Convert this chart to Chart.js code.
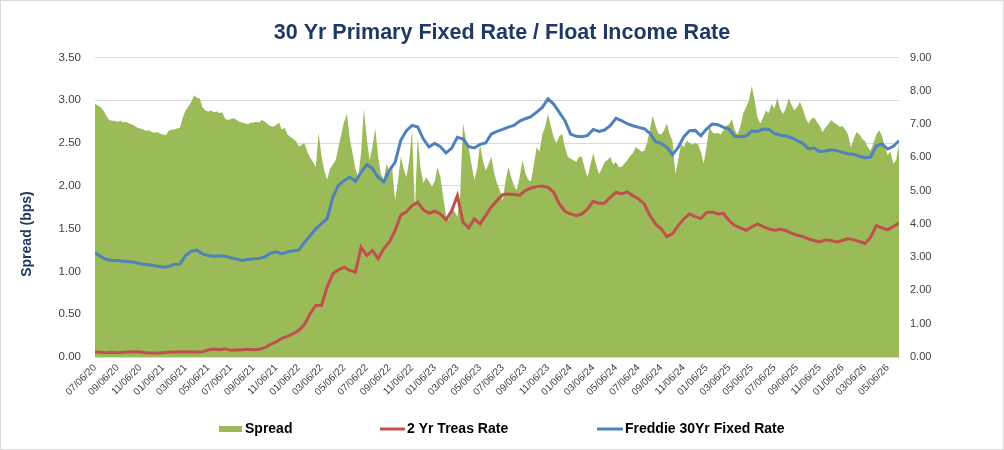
<!DOCTYPE html>
<html><head><meta charset="utf-8">
<script src="https://cdn.jsdelivr.net/npm/chart.js@4/dist/chart.umd.min.js"></script>
<style>html,body{margin:0;padding:0;background:#fff}#wrap{width:1004px;height:450px;position:relative}</style>
</head><body><div id="wrap"><canvas id="c" width="1004" height="450"></canvas></div>
<script>
// X tick labels (every two months, month offsets 0,2,4,...,70)
const tickLabels = ["07/06/20","09/06/20","11/06/20","01/06/21","03/06/21","05/06/21","07/06/21","09/06/21","11/06/21",
"01/06/22","03/06/22","05/06/22","07/06/22","09/06/22","11/06/22","01/06/23","03/06/23","05/06/23","07/06/23","09/06/23","11/06/23",
"01/06/24","03/06/24","05/06/24","07/06/24","09/06/24","11/06/24","01/06/25","03/06/25","05/06/25","07/06/25","09/06/25","11/06/25",
"01/06/26","03/06/26","05/06/26"];
// Spread: one value per week (quarter month), starting 07/06/20
const spreadStep = 0.25;
const spread = [
2.96,2.94,2.92,2.88,2.82,2.77,2.76,2.76,2.75,2.76,2.74,2.75,2.73,2.72,2.70,2.68,2.67,2.66,2.64,2.65,
2.63,2.62,2.63,2.61,2.60,2.59,2.64,2.66,2.66,2.67,2.68,2.80,2.88,2.93,2.98,3.06,3.03,3.02,2.92,2.88,
2.87,2.88,2.86,2.87,2.85,2.86,2.78,2.77,2.78,2.79,2.77,2.75,2.74,2.73,2.72,2.74,2.74,2.75,2.74,2.77,
2.75,2.72,2.70,2.69,2.71,2.74,2.66,2.68,2.60,2.57,2.55,2.52,2.46,2.48,2.50,2.40,2.33,2.28,2.22,2.62,
2.35,2.18,2.07,2.20,2.25,2.30,2.45,2.60,2.75,2.84,2.55,2.38,2.20,2.10,2.40,2.90,2.55,2.30,2.45,2.67,
2.35,2.14,2.07,2.26,2.14,2.20,1.83,2.05,2.34,2.20,2.10,2.30,2.65,1.72,2.57,2.20,2.03,2.10,2.05,1.99,
2.05,2.22,2.10,1.87,1.65,1.60,1.76,1.70,1.64,1.90,2.73,2.55,2.45,2.25,2.07,2.20,2.49,2.30,2.18,2.25,
2.34,2.15,2.03,1.95,1.83,2.05,2.22,2.10,2.00,1.95,2.10,2.30,2.15,2.07,2.05,2.25,2.45,2.40,2.60,2.69,
2.84,2.70,2.57,2.50,2.58,2.61,2.45,2.34,2.32,2.30,2.28,2.34,2.34,2.20,2.10,2.25,2.38,2.25,2.14,2.20,
2.28,2.30,2.34,2.25,2.28,2.22,2.22,2.26,2.30,2.35,2.38,2.45,2.43,2.40,2.41,2.50,2.65,2.82,2.70,2.61,
2.60,2.65,2.73,2.60,2.53,2.14,2.30,2.49,2.45,2.53,2.50,2.48,2.50,2.49,2.40,2.26,2.45,2.69,2.63,2.61,
2.62,2.60,2.65,2.70,2.72,2.78,2.65,2.60,2.70,2.85,2.92,3.00,3.17,3.00,2.80,2.73,2.80,2.88,2.85,2.96,
2.90,3.03,2.90,2.84,2.90,3.02,2.95,2.88,2.92,2.98,2.90,2.80,2.73,2.78,2.80,2.75,2.70,2.63,2.68,2.72,
2.77,2.74,2.72,2.69,2.70,2.66,2.60,2.45,2.55,2.63,2.60,2.55,2.52,2.45,2.41,2.50,2.60,2.65,2.58,2.45,
2.36,2.40,2.26,2.30,2.49];
// Rates: one value every half month, starting 07/06/20
const rateStep = 0.5;
const treas2y = [0.15,0.14,0.13,0.14,0.13,0.14,0.15,0.16,0.15,0.13,0.12,0.12,0.13,0.14,0.15,0.16,0.15,0.16,0.15,0.16,
0.21,0.24,0.22,0.25,0.20,0.21,0.22,0.23,0.22,0.23,0.28,0.38,0.45,0.56,0.62,0.70,0.80,0.98,1.30,1.55,
1.55,2.10,2.50,2.62,2.70,2.60,2.55,3.30,3.05,3.20,2.95,3.26,3.46,3.80,4.26,4.36,4.55,4.65,4.42,4.32,
4.38,4.30,4.12,4.40,4.85,4.05,3.88,4.15,4.00,4.25,4.51,4.70,4.88,4.90,4.88,4.86,5.00,5.08,5.12,5.14,
5.10,4.95,4.60,4.38,4.30,4.25,4.30,4.45,4.68,4.62,4.62,4.80,4.95,4.90,4.96,4.85,4.75,4.60,4.25,4.00,
3.85,3.62,3.70,3.95,4.15,4.30,4.22,4.16,4.34,4.36,4.30,4.32,4.10,3.95,3.88,3.81,3.91,4.00,3.92,3.85,
3.81,3.84,3.80,3.72,3.66,3.62,3.55,3.50,3.46,3.52,3.50,3.46,3.50,3.56,3.52,3.47,3.41,3.60,3.95,3.88,
3.82,3.92,4.03];
const freddie30 = [3.13,3.02,2.93,2.90,2.90,2.88,2.86,2.85,2.80,2.78,2.76,2.73,2.70,2.72,2.78,2.79,3.05,3.18,3.21,3.10,
3.05,3.03,3.04,3.03,2.98,2.94,2.90,2.93,2.95,2.96,3.01,3.12,3.16,3.10,3.16,3.19,3.21,3.45,3.64,3.85,
4.01,4.16,4.80,5.16,5.30,5.41,5.28,5.55,5.78,5.66,5.40,5.26,5.61,5.85,6.51,6.80,6.96,6.91,6.55,6.31,
6.42,6.32,6.13,6.28,6.60,6.55,6.32,6.28,6.39,6.43,6.70,6.78,6.84,6.91,6.96,7.09,7.16,7.22,7.36,7.50,
7.76,7.60,7.35,7.10,6.70,6.63,6.62,6.66,6.84,6.78,6.82,6.95,7.17,7.10,7.01,6.95,6.90,6.86,6.72,6.47,
6.42,6.30,6.08,6.30,6.62,6.80,6.81,6.65,6.85,7.00,6.98,6.90,6.85,6.63,6.62,6.64,6.79,6.78,6.85,6.84,
6.72,6.67,6.64,6.59,6.50,6.42,6.26,6.28,6.17,6.19,6.23,6.20,6.15,6.11,6.09,6.03,5.99,6.01,6.35,6.40,
6.25,6.33,6.50];
const seriesNames = ["Spread","2 Yr Treas Rate","Freddie 30Yr Fixed Rate"];
const chartTitle = "30 Yr Primary Fixed Rate / Float Income Rate";
const leftAxisTitle = "Spread (bps)";

const GREEN = "#9BBB59", RED = "#C0504D", BLUE = "#4F81BD", NAVY = "#1F3864";
const FONT = "'Liberation Sans', Arial, sans-serif";
Chart.defaults.font.family = FONT;

const toXY = (arr, step) => arr.map((v, i) => ({x: i * step, y: v}));

const decor = {
  id: "decor",
  beforeDraw(chart) {
    const c = chart.ctx;
    c.save();
    c.fillStyle = "#fff";
    c.fillRect(0, 0, chart.width, chart.height);
    c.restore();
  },
  afterDraw(chart) {
    const c = chart.ctx;
    c.save();
    c.strokeStyle = "#D9D9D9";
    c.lineWidth = 1;
    c.strokeRect(0.5, 0.5, chart.width - 1, chart.height - 1);
    c.fillStyle = NAVY;
    c.font = "bold 14px " + FONT;
    c.textAlign = "center";
    c.textBaseline = "middle";
    c.translate(27, 234);
    c.rotate(-Math.PI / 2);
    c.fillText(leftAxisTitle, 0, 0);
    c.restore();
    c.save();
    const ly = 429;
    c.font = "bold 14px " + FONT;
    c.textAlign = "left";
    c.textBaseline = "middle";
    c.fillStyle = GREEN;
    c.fillRect(219, ly - 3, 23, 6);
    c.fillStyle = "#000";
    c.fillText(seriesNames[0], 245, ly);
    c.strokeStyle = RED; c.lineWidth = 3;
    c.beginPath(); c.moveTo(380, ly); c.lineTo(405, ly); c.stroke();
    c.fillText(seriesNames[1], 407, ly);
    c.strokeStyle = BLUE;
    c.beginPath(); c.moveTo(597, ly); c.lineTo(623, ly); c.stroke();
    c.fillText(seriesNames[2], 625, ly);
    c.restore();
  }
};

new Chart(document.getElementById("c"), {
  data: {
    datasets: [
      {type: "line", label: seriesNames[1], data: toXY(treas2y, rateStep), yAxisID: "y1", borderColor: RED, borderWidth: 3,
       pointRadius: 0, fill: false, tension: 0, order: 2},
      {type: "line", label: seriesNames[2], data: toXY(freddie30, rateStep), yAxisID: "y1", borderColor: BLUE, borderWidth: 3,
       pointRadius: 0, fill: false, tension: 0, order: 1},
      {type: "line", label: seriesNames[0], data: toXY(spread, spreadStep), yAxisID: "y", borderWidth: 0, borderColor: GREEN,
       backgroundColor: GREEN, pointRadius: 0, fill: "origin", tension: 0, order: 3}
    ]
  },
  options: {
    responsive: false,
    devicePixelRatio: 1,
    animation: false,
    layout: {padding: 0},
    plugins: {
      legend: {display: false},
      tooltip: {enabled: false},
      title: {display: true, text: chartTitle, color: NAVY,
        font: {family: FONT, size: 21.5, weight: "bold"}, padding: {top: 20, bottom: 11.7}}
    },
    scales: {
      x: {type: "linear", min: 0, max: 71,
        grid: {display: false},
        border: {display: true, color: "#D9D9D9"},
        ticks: {stepSize: 2, autoSkip: false, includeBounds: false, minRotation: 45, maxRotation: 45,
          font: {size: 10}, color: "#404040", padding: -3,
          callback: v => { const k = v / 2; return (Number.isInteger(k) && tickLabels[k]) ? tickLabels[k] : ""; }},
        afterFit: s => { s.height = 93; }
      },
      y: {position: "left", min: 0, max: 3.5,
        grid: {color: "#D9D9D9", drawTicks: false},
        border: {display: false},
        ticks: {stepSize: 0.5, font: {size: 11.5}, color: "#404040", padding: 14, callback: v => v.toFixed(2)},
        afterFit: s => { s.width = 95; }
      },
      y1: {position: "right", min: 0, max: 9,
        grid: {drawOnChartArea: false, drawTicks: false},
        border: {display: false},
        ticks: {stepSize: 1, font: {size: 11}, color: "#404040", padding: 11, callback: v => v.toFixed(2)},
        afterFit: s => { s.width = 105; }
      }
    }
  },
  plugins: [decor]
});
</script>
</body></html>
